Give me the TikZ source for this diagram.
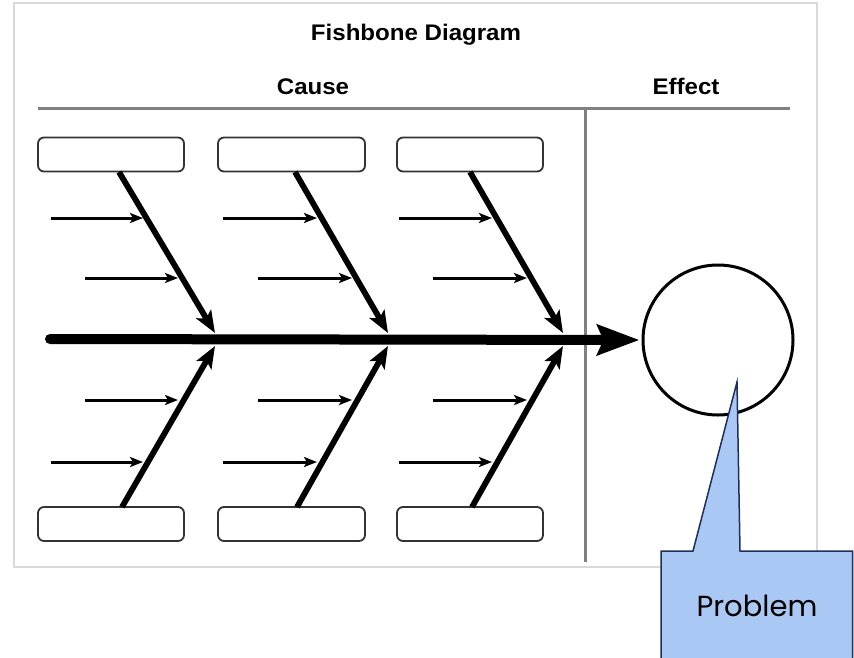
\documentclass[tikz,border=0pt]{standalone}
\usepackage{fontspec}
\newfontfamily\hdfont{Liberation Sans}
\newfontfamily\probfont{Poppins}
\usetikzlibrary{arrows.meta}
\definecolor{calloutfill}{HTML}{A9C8F4}
\definecolor{calloutline}{HTML}{1F2F5C}
\begin{document}
\begin{tikzpicture}[x=1pt,y=-1pt,
  frame/.style={draw=black!15, line width=1.3pt},
  rulebar/.style={draw=black!50, line width=3pt},
  catbox/.style={draw=black!80, line width=1.8pt, rounded corners=6pt, fill=white, minimum height=34pt, inner sep=0pt},
  bone/.style={line width=5.8pt, -{Stealth[length=22pt,width=17pt,inset=5pt]}},
  twig/.style={line width=3pt, -{Stealth[length=13pt,width=10pt,inset=3pt]}},
  spine/.style={line width=10pt, line cap=round, -{Stealth[length=42pt,width=30pt,inset=6pt]}},
  hd/.style={font=\hdfont\bfseries\fontsize{21.5}{24}\selectfont, inner sep=0pt, anchor=base},
]
\useasboundingbox (0,0) rectangle (854,657);
\clip (0,0) rectangle (854,657);
\fill[white] (0,0) rectangle (854,657);

% frame
\draw[frame] (14,3) rectangle (817,567);

% headings
\node[hd] (title) at (416,40) {\scalebox{1.12}[1.05]{Fishbone Diagram}};
\node[hd] (cause) at (313,94) {\scalebox{1.12}[1.05]{Cause}};
\node[hd] (effect) at (686,94) {\scalebox{1.12}[1.05]{Effect}};

% header rule and divider
\coordinate (hl) at (38,108);
\coordinate (hr) at (790,108);
\coordinate (dt) at (585,108);
\coordinate (db) at (585,562);
\draw[rulebar] (hl) -- (hr);
\draw[rulebar] (dt) -- (db);

% effect circle
\node[circle, draw, line width=3pt, minimum size=150pt, inner sep=0pt] (eff) at (718,340) {};

% spine
\coordinate (sp0) at (50,339);
\draw[spine] (sp0) -- ([xshift=-2pt]eff.west);

% groups: box centre x, box width, top bone start x, bottom bone start x, tip x, twig long start, twig long end, twig short start, twig short end
\foreach \n/\bx/\bw/\ts/\bs/\tp/\la/\lb/\sa/\sb in {
  1/111/146/119/122/215/51/143/85/178,
  2/291.5/147/295/297/388/223/317/258/352,
  3/470/146/470/472/563/399/492/433/527}{
  \node[catbox, minimum width=\bw pt] (top\n) at (\bx,154.5) {};
  \node[catbox, minimum width=\bw pt] (bot\n) at (\bx,524) {};
  \coordinate (ta\n) at (\ts,172);
  \coordinate (tt\n) at (\tp,333);
  \coordinate (ba\n) at (\bs,507);
  \coordinate (bt\n) at (\tp,346);
  \draw[bone] (ta\n) -- (tt\n);
  \draw[bone] (ba\n) -- (bt\n);
  \coordinate (w1a\n) at (\la,218); \coordinate (w1b\n) at (\lb,218);
  \coordinate (w2a\n) at (\sa,278); \coordinate (w2b\n) at (\sb,278);
  \coordinate (w3a\n) at (\sa,400); \coordinate (w3b\n) at (\sb,400);
  \coordinate (w4a\n) at (\la,462); \coordinate (w4b\n) at (\lb,462);
  \draw[twig] (w1a\n) -- (w1b\n);
  \draw[twig] (w2a\n) -- (w2b\n);
  \draw[twig] (w3a\n) -- (w3b\n);
  \draw[twig] (w4a\n) -- (w4b\n);
}

% callout
\draw[fill=calloutfill, draw=calloutline, line width=1.5pt, line join=miter]
  (661,551) -- (693,551) -- (737,382) -- (740,551) -- (852.5,551) -- (852.5,670) -- (661,670) -- cycle;
\node[font=\probfont\fontsize{29}{32}\selectfont, inner sep=0pt] (prob) at (757,606) {Problem};
\end{tikzpicture}
\end{document}
